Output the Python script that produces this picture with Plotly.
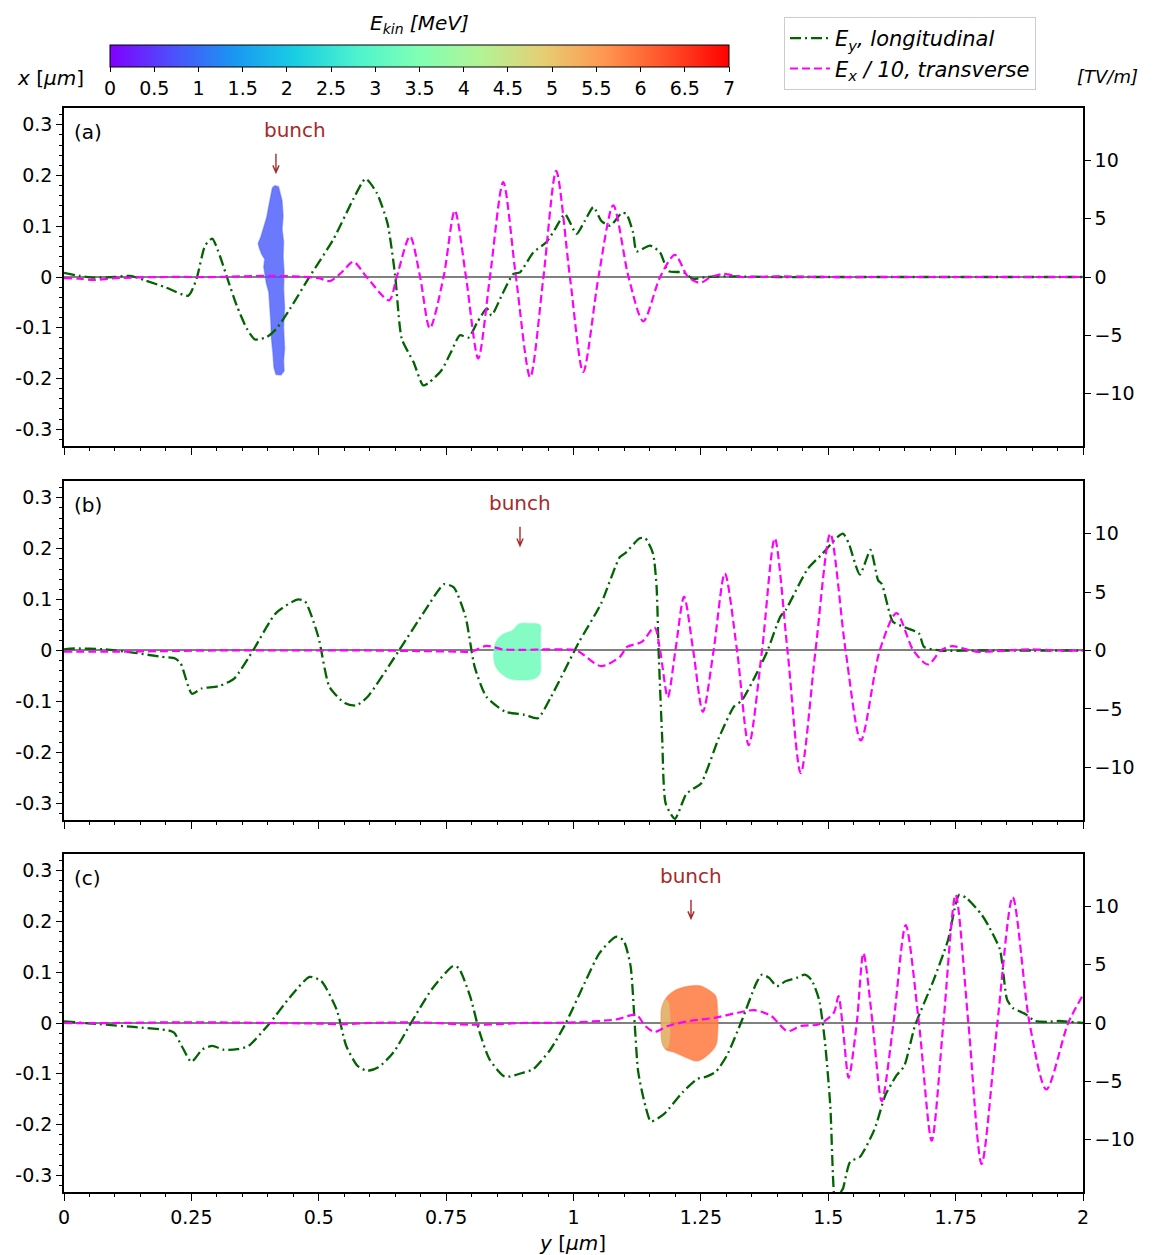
import plotly.graph_objects as go
from plotly.colors import sample_colorscale

# ---------------- data ----------------
y_tick_vals = [0, 0.25, 0.5, 0.75, 1, 1.25, 1.5, 1.75, 2]
y_tick_text = ["0", "0.25", "0.5", "0.75", "1", "1.25", "1.5", "1.75", "2"]
x_tick_vals = [-0.3, -0.2, -0.1, 0, 0.1, 0.2, 0.3]
x_tick_text = ["-0.3", "-0.2", "-0.1", "0", "0.1", "0.2", "0.3"]
f_tick_vals = [-10, -5, 0, 5, 10]
f_tick_text = ["\u221210", "\u22125", "0", "5", "10"]
e_tick_vals = [0, 0.5, 1, 1.5, 2, 2.5, 3, 3.5, 4, 4.5, 5, 5.5, 6, 6.5, 7]
e_tick_text = ["0", "0.5", "1", "1.5", "2", "2.5", "3", "3.5", "4", "4.5", "5", "5.5", "6", "6.5", "7"]

# matplotlib "rainbow" colour stops
rainbow = [
    [0.0, "rgb(128,0,255)"], [0.1, "rgb(77,79,252)"], [0.2, "rgb(26,150,243)"],
    [0.3, "rgb(26,206,227)"], [0.4, "rgb(77,243,206)"], [0.5, "rgb(128,255,180)"],
    [0.6, "rgb(179,243,150)"], [0.7, "rgb(230,206,116)"], [0.8, "rgb(255,150,79)"],
    [0.9, "rgb(255,79,40)"], [1.0, "rgb(255,0,0)"],
]

# Panel (a): (y [um], field [TV/m])
a_ey = [(0, 0.35), (0.03, 0.1), (0.06, -0.05), (0.10, 0.0), (0.13, 0.1), (0.16, -0.3), (0.20, -0.9),
        (0.244, -1.6), (0.260, -0.17), (0.277, 2.7), (0.291, 3.3), (0.306, 1.8), (0.319, 0.1),
        (0.339, -2.45), (0.359, -4.44), (0.375, -5.36), (0.398, -5.15), (0.417, -4.44), (0.444, -2.7),
        (0.483, 0.1), (0.529, 3.25), (0.568, 6.7), (0.592, 8.43), (0.614, 7.2), (0.635, 4.6),
        (0.650, 0.1), (0.663, -5.3), (0.686, -7.3), (0.705, -9.3), (0.718, -9.0), (0.741, -8.0),
        (0.759, -6.5), (0.777, -5.0), (0.794, -5.2), (0.811, -3.9), (0.830, -2.7), (0.839, -3.3),
        (0.860, -1.5), (0.882, 0.26), (0.895, 0.4), (0.921, 2.1), (0.947, 3.0), (0.965, 4.2),
        (0.983, 5.4), (1.006, 3.7), (1.022, 4.8), (1.039, 6.0), (1.055, 4.8), (1.072, 4.4),
        (1.095, 5.5), (1.104, 5.4), (1.117, 3.8), (1.124, 2.2), (1.150, 2.7), (1.170, 2.1),
        (1.186, 0.5), (1.216, 0.4), (1.235, -0.17), (1.26, 0.0), (1.30, 0.05), (1.40, 0.0),
        (1.50, 0.0), (1.60, 0.0), (1.70, 0.0), (1.80, 0.0), (1.90, 0.0), (2.0, 0.0)]
a_ex = [(0, -0.1), (0.03, -0.15), (0.06, -0.25), (0.10, -0.1), (0.20, 0.0), (0.30, 0.0), (0.40, 0.1),
        (0.45, 0.05), (0.50, -0.1), (0.522, -0.35), (0.545, 0.4), (0.568, 1.3), (0.594, 0.0),
        (0.638, -2.0), (0.653, 0.0), (0.679, 3.5), (0.699, 0.0), (0.718, -4.4), (0.745, 0.0),
        (0.767, 5.7), (0.789, 0.0), (0.813, -7.0), (0.836, 0.0), (0.862, 8.15), (0.887, 0.0),
        (0.915, -8.6), (0.941, 0.0), (0.966, 9.1), (0.993, 0.0), (1.019, -8.15), (1.049, 0.0),
        (1.078, 6.15), (1.108, 0.0), (1.137, -3.8), (1.170, 0.0), (1.199, 1.9), (1.225, 0.0),
        (1.248, -0.5), (1.27, 0.0), (1.294, 0.26), (1.33, 0.0), (1.40, 0.05), (1.50, 0.0),
        (1.60, 0.0), (1.70, 0.0), (1.80, 0.0), (1.90, 0.0), (2.0, 0.0)]

# Panel (b)
b_ey = [(0, 0.1), (0.02, 0.17), (0.079, 0.1), (0.139, -0.2), (0.191, -0.54), (0.218, -0.68),
        (0.229, -1.1), (0.251, -3.7), (0.270, -3.25), (0.304, -3.05), (0.334, -2.4), (0.371, 0.0),
        (0.416, 3.2), (0.458, 4.36), (0.473, 4.2), (0.499, 1.2), (0.521, -3.1), (0.551, -4.5),
        (0.574, -4.7), (0.596, -3.96), (0.656, -0.1), (0.709, 3.45), (0.746, 5.67), (0.765, 5.4),
        (0.788, 2.9), (0.806, -1.4), (0.829, -3.96), (0.866, -5.24), (0.904, -5.5), (0.930, -5.8),
        (0.956, -3.96), (1.001, -0.1), (1.011, 0.74), (1.054, 4.0), (1.091, 8.0), (1.101, 8.3),
        (1.130, 9.6), (1.141, 9.6), (1.156, 8.3), (1.163, 5.5), (1.167, 0.0), (1.174, -7.4),
        (1.181, -13.1), (1.199, -14.4), (1.221, -12.3), (1.236, -11.8), (1.250, -11.4),
        (1.286, -7.4), (1.315, -4.8), (1.330, -4.3), (1.359, -2.0), (1.380, -0.1), (1.406, 2.9),
        (1.417, 3.5), (1.460, 7.0), (1.489, 8.3), (1.518, 9.7), (1.529, 10.0), (1.540, 9.2),
        (1.562, 6.5), (1.583, 8.6), (1.598, 6.0), (1.605, 5.7), (1.627, 2.46), (1.649, 2.0),
        (1.678, 1.46), (1.688, 0.3), (1.721, 0.0), (1.80, 0.0), (1.90, 0.0), (2.0, 0.0)]
b_ex = [(0, -0.1), (0.1, -0.1), (0.2, -0.05), (0.3, 0.0), (0.4, 0.0), (0.5, 0.0), (0.6, 0.0),
        (0.7, -0.05), (0.78, -0.1), (0.80, -0.1), (0.829, 0.4), (0.86, 0.1), (0.9, 0.05),
        (0.95, 0.1), (1.0, 0.05), (1.011, -0.1), (1.054, -1.34), (1.091, -0.54), (1.105, 0.3),
        (1.134, 0.74), (1.159, 1.97), (1.170, 0.0), (1.185, -4.0), (1.200, 0.0), (1.217, 4.6),
        (1.235, 0.0), (1.254, -5.26), (1.275, 0.0), (1.297, 6.6), (1.321, 0.0), (1.344, -8.1),
        (1.370, 0.0), (1.395, 9.6), (1.420, 0.0), (1.446, -10.5), (1.475, 0.0), (1.504, 10.0),
        (1.534, 0.0), (1.564, -7.7), (1.601, 0.0), (1.634, 3.2), (1.667, 0.0), (1.696, -1.2),
        (1.721, 0.0), (1.743, 0.37), (1.79, -0.1), (1.85, 0.0), (1.895, 0.1), (1.95, 0.0), (2.0, 0.0)]

# Panel (c)
c_ey = [(0, 0.14), (0.07, -0.1), (0.137, -0.34), (0.205, -0.63), (0.216, -0.83), (0.231, -1.97),
        (0.25, -3.33), (0.272, -2.25), (0.291, -1.97), (0.314, -2.3), (0.340, -2.25), (0.362, -1.97),
        (0.404, 0.0), (0.445, 2.3), (0.482, 3.96), (0.505, 3.6), (0.535, 1.17), (0.554, -1.97),
        (0.576, -3.67), (0.595, -4.1), (0.617, -3.8), (0.647, -2.5), (0.681, 0.0), (0.722, 2.9),
        (0.764, 4.9), (0.775, 4.7), (0.797, 2.3), (0.816, -0.83), (0.835, -3.1), (0.865, -4.6),
        (0.902, -4.25), (0.921, -3.96), (0.955, -2.25), (0.985, 0.0), (1.022, 3.45), (1.051, 6.0),
        (1.083, 7.4), (1.098, 7.1), (1.112, 4.9), (1.120, 0.0), (1.127, -4.2), (1.141, -7.1),
        (1.152, -8.45), (1.178, -7.8), (1.214, -5.95), (1.243, -4.8), (1.261, -4.6), (1.279, -4.2),
        (1.301, -2.8), (1.330, 0.17), (1.359, 3.44), (1.370, 4.15), (1.384, 3.87), (1.399, 3.16),
        (1.417, 3.6), (1.438, 3.87), (1.454, 4.15), (1.467, 3.7), (1.482, 2.0), (1.493, -1.4),
        (1.504, -7.1), (1.511, -14.5), (1.518, -16.5), (1.525, -14.5), (1.529, -14.2),
        (1.543, -11.9), (1.562, -11.5), (1.591, -9.1), (1.612, -6.2), (1.634, -4.5), (1.649, -3.7),
        (1.670, -0.26), (1.707, 3.7), (1.735, 7.1), (1.757, 11.0), (1.772, 10.7), (1.801, 9.3),
        (1.815, 8.3), (1.837, 6.3), (1.851, 2.0), (1.862, 1.3), (1.888, 0.74), (1.906, 0.17),
        (1.931, 0.1), (1.953, 0.17), (2.0, 0.0)]
c_ex = [(0, 0.0), (0.1, 0.0), (0.2, 0.05), (0.3, 0.05), (0.4, 0.0), (0.5, -0.05), (0.55, -0.1),
        (0.6, 0.0), (0.7, 0.05), (0.8, -0.15), (0.85, -0.1), (0.9, 0.0), (1.0, 0.05), (1.083, 0.3),
        (1.123, 0.7), (1.141, -0.26), (1.159, -0.77), (1.185, -0.26), (1.228, 0.17), (1.279, 0.46),
        (1.322, 0.88), (1.355, 1.1), (1.388, 0.6), (1.420, -0.7), (1.446, -0.26), (1.482, -0.1),
        (1.511, 0.9), (1.520, 2.3), (1.530, -1.0), (1.540, -4.7), (1.556, 0.0), (1.569, 6.0),
        (1.587, 0.0), (1.605, -6.7), (1.628, 0.0), (1.652, 8.4), (1.678, 0.0), (1.703, -10.1),
        (1.726, 0.0), (1.750, 11.0), (1.775, 0.0), (1.801, -12.1), (1.832, 0.0), (1.862, 10.8),
        (1.895, 0.0), (1.928, -5.7), (1.971, 0.0), (2.0, 2.4)]

# Electron bunch outlines: (y [um], x [um]) and their kinetic energy [MeV]
bunch_a = [(0.409, 0.176), (0.414, 0.180), (0.421, 0.178), (0.424, 0.165), (0.428, 0.150),
           (0.430, 0.120), (0.428, 0.094), (0.431, 0.070), (0.430, 0.040), (0.432, 0.010),
           (0.431, -0.024), (0.433, -0.060), (0.431, -0.100), (0.433, -0.141), (0.431, -0.165),
           (0.432, -0.185), (0.426, -0.193), (0.416, -0.192), (0.412, -0.178), (0.410, -0.150),
           (0.407, -0.120), (0.406, -0.090), (0.404, -0.060), (0.402, -0.030), (0.397, -0.012),
           (0.395, 0.005), (0.392, 0.020), (0.394, 0.035), (0.388, 0.045), (0.384, 0.055),
           (0.381, 0.066), (0.386, 0.078), (0.389, 0.088), (0.393, 0.100), (0.398, 0.118),
           (0.402, 0.140), (0.406, 0.160)]
bunch_b = [(0.844, 0.0), (0.845, -0.025), (0.855, -0.042), (0.874, -0.055), (0.897, -0.058),
           (0.923, -0.055), (0.934, -0.045), (0.935, -0.012), (0.935, 0.027), (0.934, 0.050),
           (0.911, 0.053), (0.893, 0.052), (0.881, 0.040), (0.859, 0.030), (0.848, 0.017)]
bunch_c = [(1.174, 0.033), (1.185, 0.053), (1.203, 0.066), (1.228, 0.073), (1.250, 0.073),
           (1.268, 0.063), (1.279, 0.053), (1.283, 0.020), (1.283, -0.019), (1.279, -0.045),
           (1.261, -0.065), (1.243, -0.075), (1.221, -0.068), (1.199, -0.058), (1.181, -0.052),
           (1.174, -0.039), (1.172, -0.006)]
bunch_c_tail = [(1.175, 0.030), (1.181, 0.046), (1.186, 0.040), (1.186, -0.045), (1.181, -0.050),
                (1.175, -0.037), (1.173, -0.006)]
bunch_energy = {"a": 0.8, "b": 3.3, "c": 5.9, "c_tail": 4.4}
E_MAX = 7.0

panel_labels = ["(a)", "(b)", "(c)"]
# (text y, text x, arrow y) per panel
bunch_label_pos = [(0.4534, 0.290, 0.416), (0.895, 0.290, 0.895), (1.2306, 0.290, 1.2306)]
ARROW_TAIL, ARROW_TIP = 0.243, 0.206

# ---------------- figure ----------------
GREEN = "#006400"
MAGENTA = "#ff00ff"
BROWN = "#a52a2a"
FONT = "DejaVu Sans"

domains = [[0.6882, 1.0], [0.3432, 0.6559], [0.0, 0.3118]]
panels = [
    dict(ey=a_ey, ex=a_ex, bunch=[("a", bunch_a, 0.8, "linear")]),
    dict(ey=b_ey, ex=b_ex, bunch=[("b", bunch_b, 0.85, "spline")]),
    dict(ey=c_ey, ex=c_ex, bunch=[("c", bunch_c, 0.85, "spline"),
                                  ("c_tail", bunch_c_tail, 0.45, "spline")]),
]


def energy_color(e, alpha):
    c = sample_colorscale(rainbow, [e / E_MAX])[0]
    return c.replace("rgb(", "rgba(").replace(")", ",%g)" % alpha)


fig = go.Figure()
layout = {}
annotations = []
shapes = []

for i, p in enumerate(panels):
    xname = "x" if i == 0 else "x%d" % (i + 1)
    yl = "y" if i == 0 else "y%d" % (2 * i + 1)
    yr = "y%d" % (2 * i + 2)
    xkey = "xaxis" if i == 0 else "xaxis%d" % (i + 1)
    ylkey = "yaxis" if i == 0 else "yaxis%d" % (2 * i + 1)
    yrkey = "yaxis%d" % (2 * i + 2)

    for key, outline, alpha, shp in p["bunch"]:
        fig.add_trace(go.Scatter(
            x=[q[0] for q in outline] + [outline[0][0]],
            y=[q[1] for q in outline] + [outline[0][1]],
            xaxis=xname, yaxis=yl, mode="lines", fill="toself",
            fillcolor=energy_color(bunch_energy[key], alpha),
            line=dict(width=1.5, color=energy_color(bunch_energy[key], alpha * 0.5), shape=shp),
            showlegend=False, hoverinfo="skip"))

    fig.add_trace(go.Scatter(
        x=[q[0] for q in p["ey"]], y=[q[1] for q in p["ey"]], xaxis=xname, yaxis=yr,
        mode="lines", line=dict(color=GREEN, width=2.3, dash="11px,4px,2px,4px", shape="spline",
                                smoothing=0.6),
        name="<i>E<sub>y</sub>, longitudinal</i>", showlegend=(i == 0), legendrank=1))
    fig.add_trace(go.Scatter(
        x=[q[0] for q in p["ex"]], y=[q[1] for q in p["ex"]], xaxis=xname, yaxis=yr,
        mode="lines", line=dict(color=MAGENTA, width=2.2, dash="8px,4px", shape="spline",
                                smoothing=0.8),
        name="<i>E<sub>x</sub> / 10, transverse</i>", showlegend=(i == 0), legendrank=2))

    layout[xkey] = dict(
        domain=[0, 1], anchor=yl, range=[0, 2], showline=True, linecolor="black", linewidth=1.5,
        mirror=True, ticks="outside", ticklen=7, tickwidth=1.3, tickcolor="black",
        tickvals=y_tick_vals, ticktext=y_tick_text, showticklabels=(i == 2),
        minor=dict(tick0=0, dtick=0.05, ticks="outside", ticklen=3.5, tickwidth=1,
                   tickcolor="black"),
        showgrid=False, zeroline=False, tickfont=dict(size=19, color="black"))
    if i > 0:
        layout[xkey]["matches"] = "x"
    layout[ylkey] = dict(
        domain=domains[i], anchor=xname, range=[-0.333, 0.333], showline=True, linecolor="black",
        linewidth=1.5, ticks="outside", ticklen=6, tickwidth=1.3, tickcolor="black",
        tickvals=x_tick_vals, ticktext=x_tick_text,
        minor=dict(tick0=0, dtick=0.02, ticks="outside", ticklen=3, tickwidth=1,
                   tickcolor="black"),
        showgrid=False, zeroline=True, zerolinecolor="#808080", zerolinewidth=1.5,
        tickfont=dict(size=19, color="black"))
    layout[yrkey] = dict(
        overlaying=yl, side="right", anchor=xname, range=[-14.5, 14.5], showline=True,
        linecolor="black", linewidth=1.5, ticks="outside", ticklen=6, tickwidth=1.3,
        tickcolor="black", tickvals=f_tick_vals, ticktext=f_tick_text, showgrid=False,
        zeroline=False, tickfont=dict(size=19, color="black"))

    # panel label
    annotations.append(dict(text=panel_labels[i], xref=xname + " domain", yref=yl + " domain",
                            x=0.008, y=0.93, xanchor="left", yanchor="middle", showarrow=False,
                            font=dict(size=20, color="black")))
    # "bunch" text and arrow
    tx, ty, ax_x = bunch_label_pos[i]
    annotations.append(dict(text="bunch", xref=xname, yref=yl, x=tx, y=ty, showarrow=False,
                            xanchor="center", yanchor="middle", font=dict(size=20, color=BROWN)))
    arrow_path = ("M %g,%g L %g,%g M %g,%g L %g,%g L %g,%g" % (
        ax_x, ARROW_TAIL, ax_x, ARROW_TIP,
        ax_x - 0.006, ARROW_TIP + 0.014, ax_x, ARROW_TIP, ax_x + 0.006, ARROW_TIP + 0.014))
    shapes.append(dict(type="path", path=arrow_path, xref=xname, yref=yl,
                       line=dict(color=BROWN, width=1.4)))

# colour bar (energy scale)
fig.add_trace(go.Scatter(
    x=[1.0], y=[0.0], xaxis="x", yaxis="y", mode="markers", showlegend=False, hoverinfo="skip",
    marker=dict(size=0.1, opacity=0, color=[0], cmin=0, cmax=E_MAX, colorscale=rainbow,
                showscale=True,
                colorbar=dict(orientation="h", x=0.3489, xanchor="center", y=1.0581,
                              yanchor="top", len=619, lenmode="pixels", thickness=22,
                              thicknessmode="pixels", xpad=0, ypad=0, outlinewidth=1,
                              outlinecolor="black", tickvals=e_tick_vals, ticktext=e_tick_text,
                              ticks="outside", ticklen=5, tickcolor="black",
                              tickfont=dict(size=19, color="black")))))

annotations += [
    dict(text="<i>E<sub>kin</sub> [MeV]</i>", xref="paper", yref="paper", x=0.3489, y=1.0775,
         xanchor="center", yanchor="middle", showarrow=False, font=dict(size=20, color="black")),
    dict(text="<i>x</i> [<i>\u00b5m</i>]", xref="paper", yref="paper", x=-0.048, y=1.0277,
         xanchor="left", yanchor="middle", showarrow=False, font=dict(size=20, color="black")),
    dict(text="<i>[TV/m]</i>", xref="paper", yref="paper", x=0.992, y=1.0295,
         xanchor="left", yanchor="middle", showarrow=False, font=dict(size=18, color="black")),
    dict(text="<i>y</i> [<i>\u00b5m</i>]", xref="paper", yref="paper", x=0.4995, y=-0.047,
         xanchor="center", yanchor="middle", showarrow=False, font=dict(size=20, color="black")),
]

fig.update_layout(
    width=1159, height=1255,
    margin=dict(l=64, r=76, t=108, b=63),
    paper_bgcolor="white", plot_bgcolor="white",
    font=dict(family=FONT, size=19, color="black"),
    showlegend=True,
    legend=dict(x=0.7066, y=1.0839, xanchor="left", yanchor="top", bgcolor="white",
                bordercolor="#cccccc", borderwidth=1, font=dict(size=21, color="black"),
                traceorder="normal", itemwidth=40, tracegroupgap=2),
    annotations=annotations,
    shapes=shapes,
    **layout,
)

fig.write_html("out.html")
